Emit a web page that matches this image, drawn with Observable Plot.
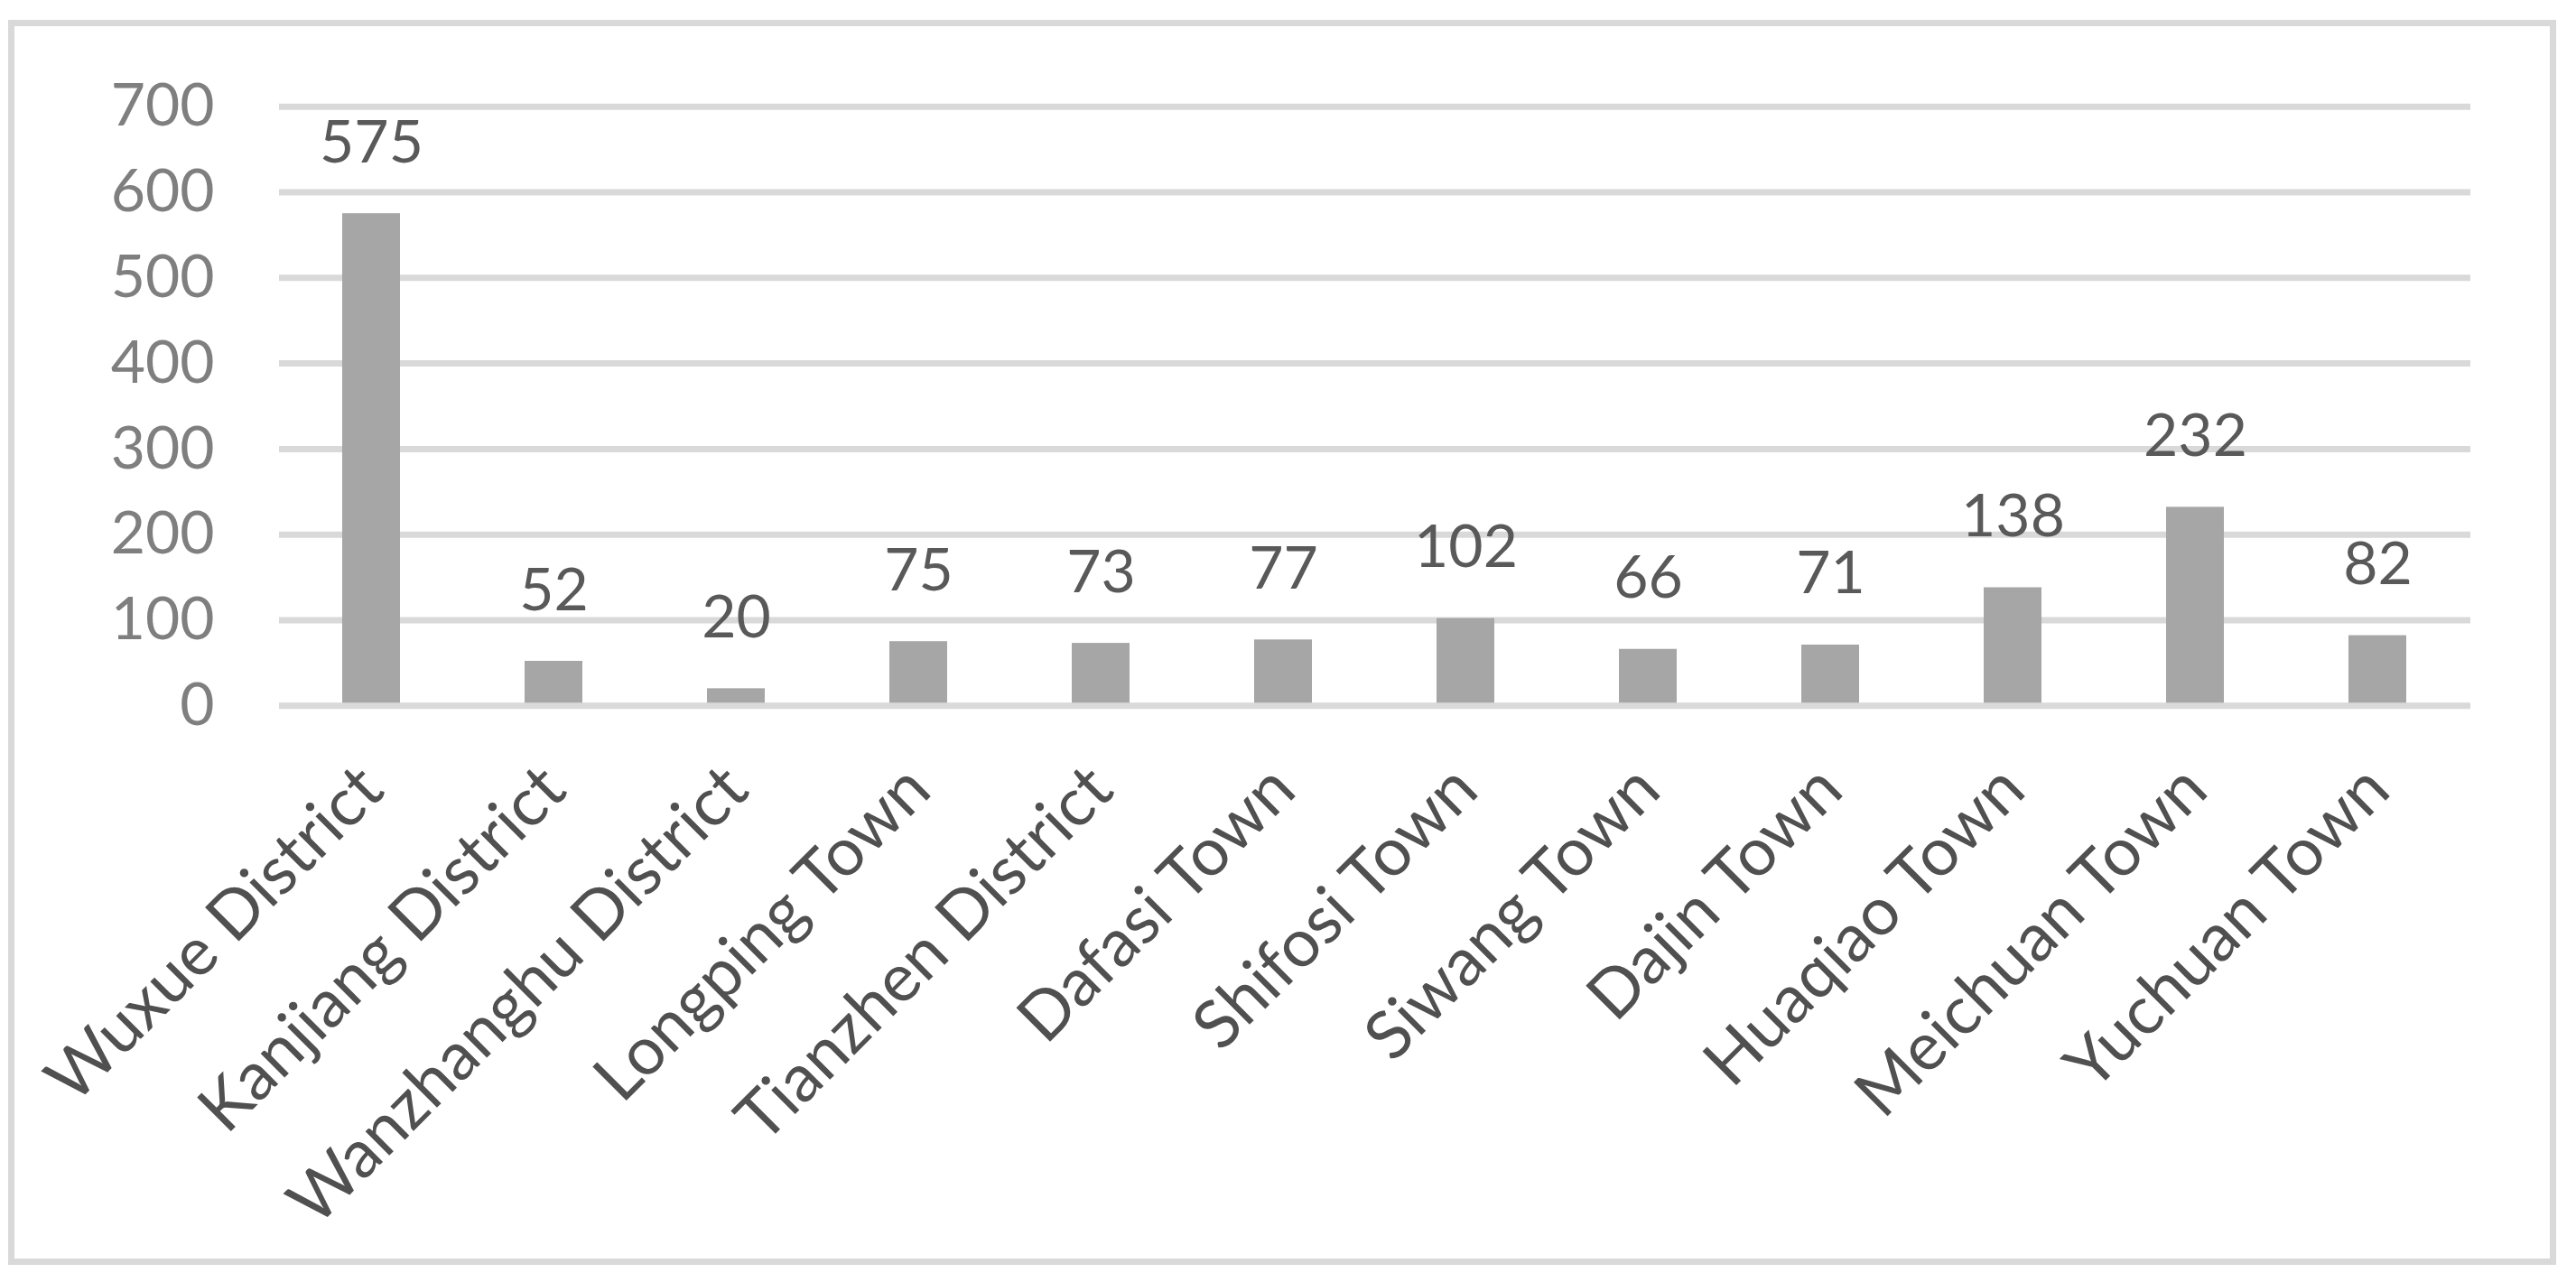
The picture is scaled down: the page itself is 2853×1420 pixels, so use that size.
<!DOCTYPE html>
<html>
<head>
<meta charset="utf-8">
<script src="https://cdn.jsdelivr.net/npm/d3@7"></script>
<script src="https://cdn.jsdelivr.net/npm/@observablehq/plot@0.6"></script>
<style>
  html, body { margin: 0; padding: 0; background: #ffffff; }
  #wrap { position: relative; width: 2853px; height: 1420px; overflow: hidden; }
  #frame { position: absolute; left: 9px; top: 22px; width: 2808px; height: 1365px; border: 7px solid #d9d9d9; }
  #chart { position: absolute; left: 0; top: 0; }
</style>
</head>
<body>
<div id="wrap"><div id="frame"></div><div id="chart"></div></div>
<script>
const categories = ["Wuxue District", "Kanjiang District", "Wanzhanghu District", "Longping Town", "Tianzhen District", "Dafasi Town", "Shifosi Town", "Siwang Town", "Dajin Town", "Huaqiao Town", "Meichuan Town", "Yuchuan Town"];
const values = [575, 52, 20, 75, 73, 77, 102, 66, 71, 138, 232, 82];
const yTicks = [0, 100, 200, 300, 400, 500, 600, 700];

const data = categories.map((c, i) => ({category: c, value: values[i]}));

const chart = Plot.plot({
  width: 2853,
  height: 1420,
  marginLeft: 309,
  marginRight: 117,
  marginTop: 117.7,
  marginBottom: 638.7,
  style: {fontFamily: "Lato, 'Open Sans', sans-serif", fontSize: "66px", background: "transparent"},
  x: {domain: categories, paddingInner: 0.683, paddingOuter: 0.3415, label: null},
  y: {domain: [0, 700], label: null},
  marks: [
    Plot.ruleY(yTicks.filter(d => d !== 0), {stroke: "#d9d9d9", strokeWidth: 7}),
    Plot.barY(data, {x: "category", y: "value", fill: "#a6a6a6"}),
    Plot.ruleY([0], {stroke: "#d9d9d9", strokeWidth: 7}),
    Plot.text(data, {x: "category", y: "value", text: d => String(d.value), fill: "#595959", lineAnchor: "bottom", dy: -57, fontSize: 66}),
    Plot.axisY({ticks: yTicks, tickSize: 0, tickPadding: 72, fill: "#7f7f7f", fontSize: 66, label: null}),
    Plot.axisX({tickSize: 0, tickPadding: 80, tickRotate: -45, fill: "#505050", fontSize: 74, label: null})
  ]
});
document.getElementById("chart").appendChild(chart);
</script>
</body>
</html>
